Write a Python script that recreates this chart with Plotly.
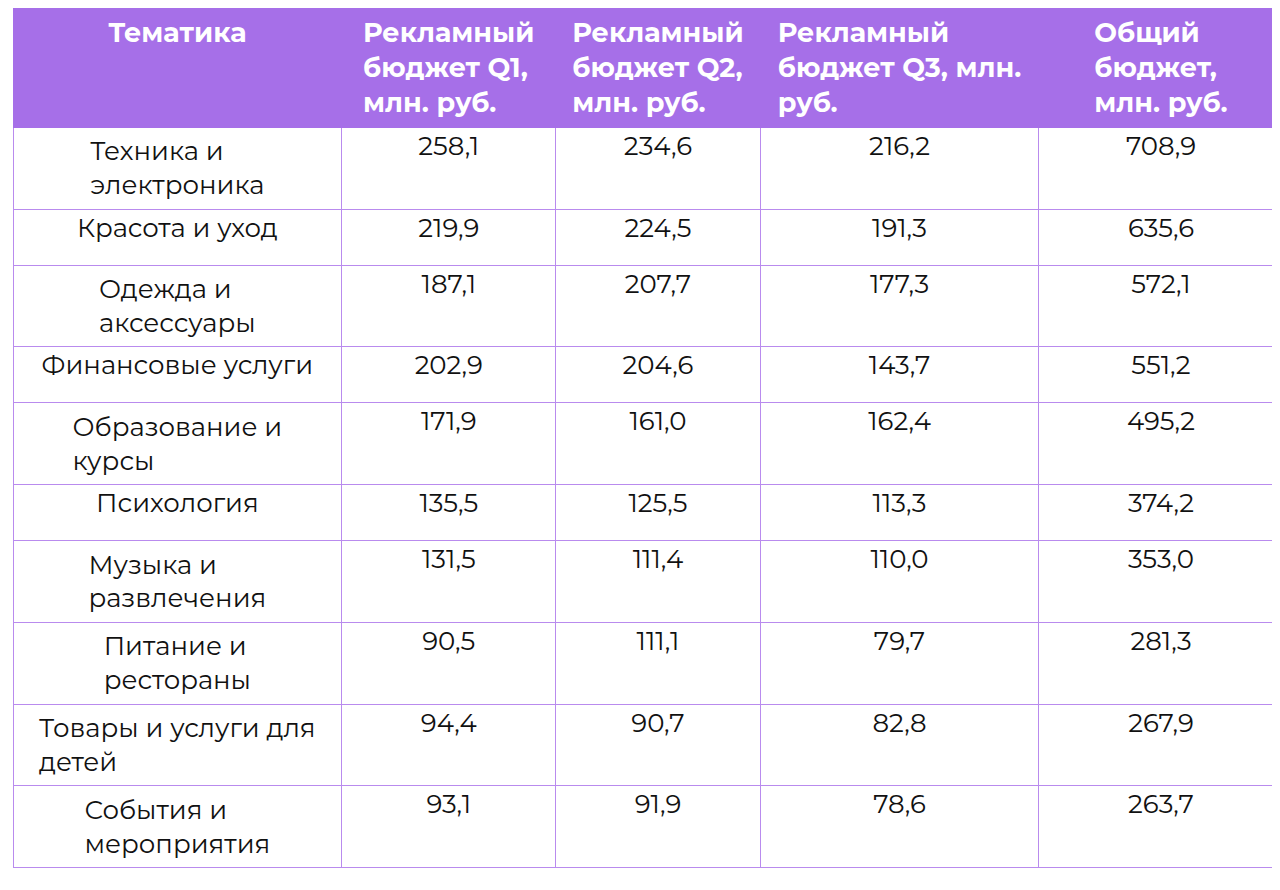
import plotly.graph_objects as go

headers = ["<br>Тематика", "Рекламный<br>бюджет Q1,<br>млн. руб.", "Рекламный<br>бюджет Q2,<br>млн. руб.",
           "Рекламный<br>бюджет Q3, млн.<br>руб.", "Общий<br>бюджет,<br>млн. руб."]
topics = ["Техника и<br>электроника", "Красота и уход", "Одежда и<br>аксессуары", "Финансовые услуги",
          "Образование и<br>курсы", "Психология", "Музыка и<br>развлечения", "Питание и<br>рестораны",
          "Товары и услуги для<br>детей", "События и<br>мероприятия"]
q1 = ["258,1", "219,9", "187,1", "202,9", "171,9", "135,5", "131,5", "90,5", "94,4", "93,1"]
q2 = ["234,6", "224,5", "207,7", "204,6", "161,0", "125,5", "111,4", "111,1", "90,7", "91,9"]
q3 = ["216,2", "191,3", "177,3", "143,7", "162,4", "113,3", "110,0", "79,7", "82,8", "78,6"]
total = ["708,9", "635,6", "572,1", "551,2", "495,2", "374,2", "353,0", "281,3", "267,9", "263,7"]

purple = "#A66FE8"
fig = go.Figure(go.Table(
    columnwidth=[330, 215, 205, 280, 245],
    header=dict(values=["<b>%s</b>" % h for h in headers], fill_color=purple, line_color=purple,
                font=dict(color="white", size=27, family="Montserrat, Inter, sans-serif"),
                align="center", height=50),
    cells=dict(values=[topics, q1, q2, q3, total], fill_color="white", line_color="#B98BEE",
               font=dict(color="#111111", size=26, family="Montserrat, Inter, sans-serif"),
               align="center", height=56),
))
fig.update_layout(width=1280, height=890, margin=dict(l=5, r=5, t=0, b=0), paper_bgcolor="white")
fig.write_html("out.html")
